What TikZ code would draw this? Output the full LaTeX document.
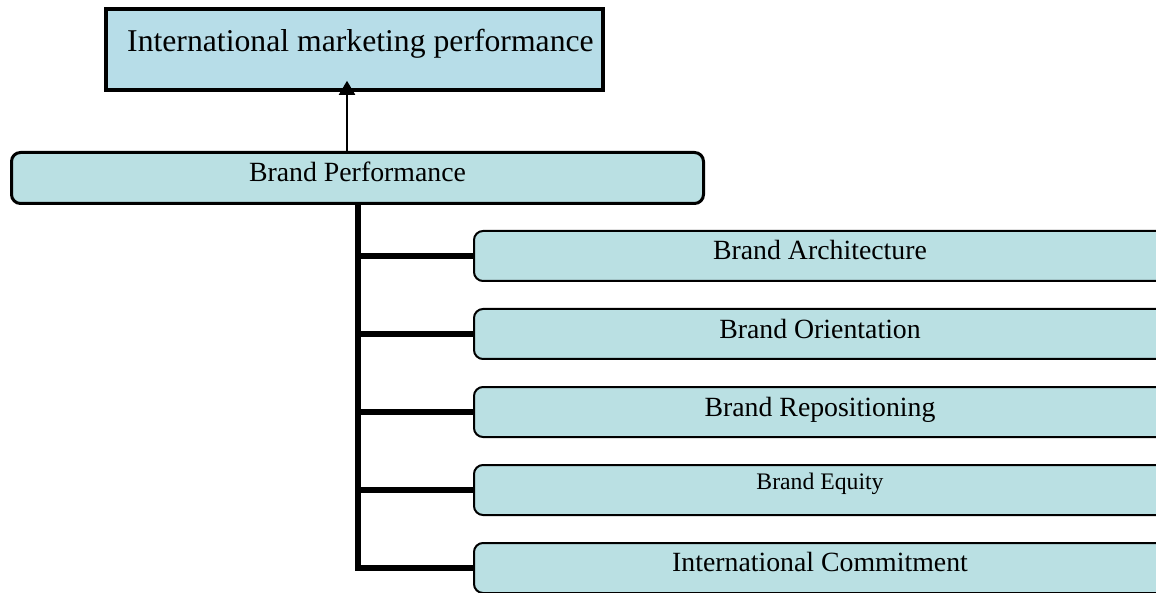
\documentclass[tikz,border=0pt]{standalone}
\usepackage{fontspec}
\setmainfont{Liberation Serif}
\usetikzlibrary{arrows.meta}
\definecolor{topfill}{HTML}{B7DDE8}
\definecolor{boxfill}{HTML}{BAE0E3}
\begin{document}
\begin{tikzpicture}[x=1pt,y=-1pt,
  topbox/.style={draw=black,fill=topfill,line width=3.6pt,rectangle,inner sep=0pt,
    minimum width=497pt,minimum height=81pt},
  parentbox/.style={draw=black,fill=boxfill,line width=3pt,rounded corners=9pt,rectangle,
    inner sep=0pt,minimum width=692pt,minimum height=51pt},
  childbox/.style={draw=black,fill=boxfill,line width=2pt,rounded corners=9pt,rectangle,
    inner sep=0pt,minimum width=692pt,minimum height=50pt},
  childtext/.style={anchor=base,inner sep=0pt,font=\fontsize{27.8}{30}\selectfont},
  trunkline/.style={line width=6pt,line join=miter},
  arrowline/.style={line width=2pt,-{Triangle[width=16pt,length=14pt]}}
]
\useasboundingbox (0,0) rectangle (1156,593);
\clip (0,0) rectangle (1156,593);

% top-level goal
\node[topbox] (top) at (354.5,49.5) {};
\node[anchor=base west,inner sep=0pt,font=\fontsize{31.7}{34}\selectfont]
  (toptext) at (127,52) {International marketing performance};

% parent box
\node[parentbox] (bp) at (357.5,178) {};
\node[childtext] (bptext) at ([yshift=-30.5pt]bp.north) {Brand Performance};

% child boxes
\node[childbox] (b1) at (820,256) {};
\node[childbox] (b2) at (820,334) {};
\node[childbox] (b3) at (820,412) {};
\node[childbox] (b4) at (820,490) {};
\node[childbox] (b5) at (820,568) {};

\node[childtext] (t1) at ([yshift=-30pt]b1.north) {Brand Architecture};
\node[childtext] (t2) at ([yshift=-30pt]b2.north) {Brand Orientation};
\node[childtext] (t3) at ([yshift=-30pt]b3.north) {Brand Repositioning};
\node[childtext,font=\fontsize{23.7}{26}\selectfont] (t4) at ([yshift=-25pt]b4.north) {Brand Equity};
\node[childtext] (t5) at ([yshift=-29pt]b5.north) {International Commitment};

% connectors
\coordinate (arrowfoot) at (347,152);
\draw[arrowline] (arrowfoot) -- ([yshift=11pt]arrowfoot |- top.south);

\coordinate (trunktop) at ([yshift=1.5pt]bp.south);
\draw[trunkline] (trunktop) -- (trunktop |- b5.west) -- (b5.west);
\foreach \b in {b1,b2,b3,b4}
  \draw[trunkline] (trunktop |- \b.west) -- (\b.west);
\end{tikzpicture}
\end{document}
